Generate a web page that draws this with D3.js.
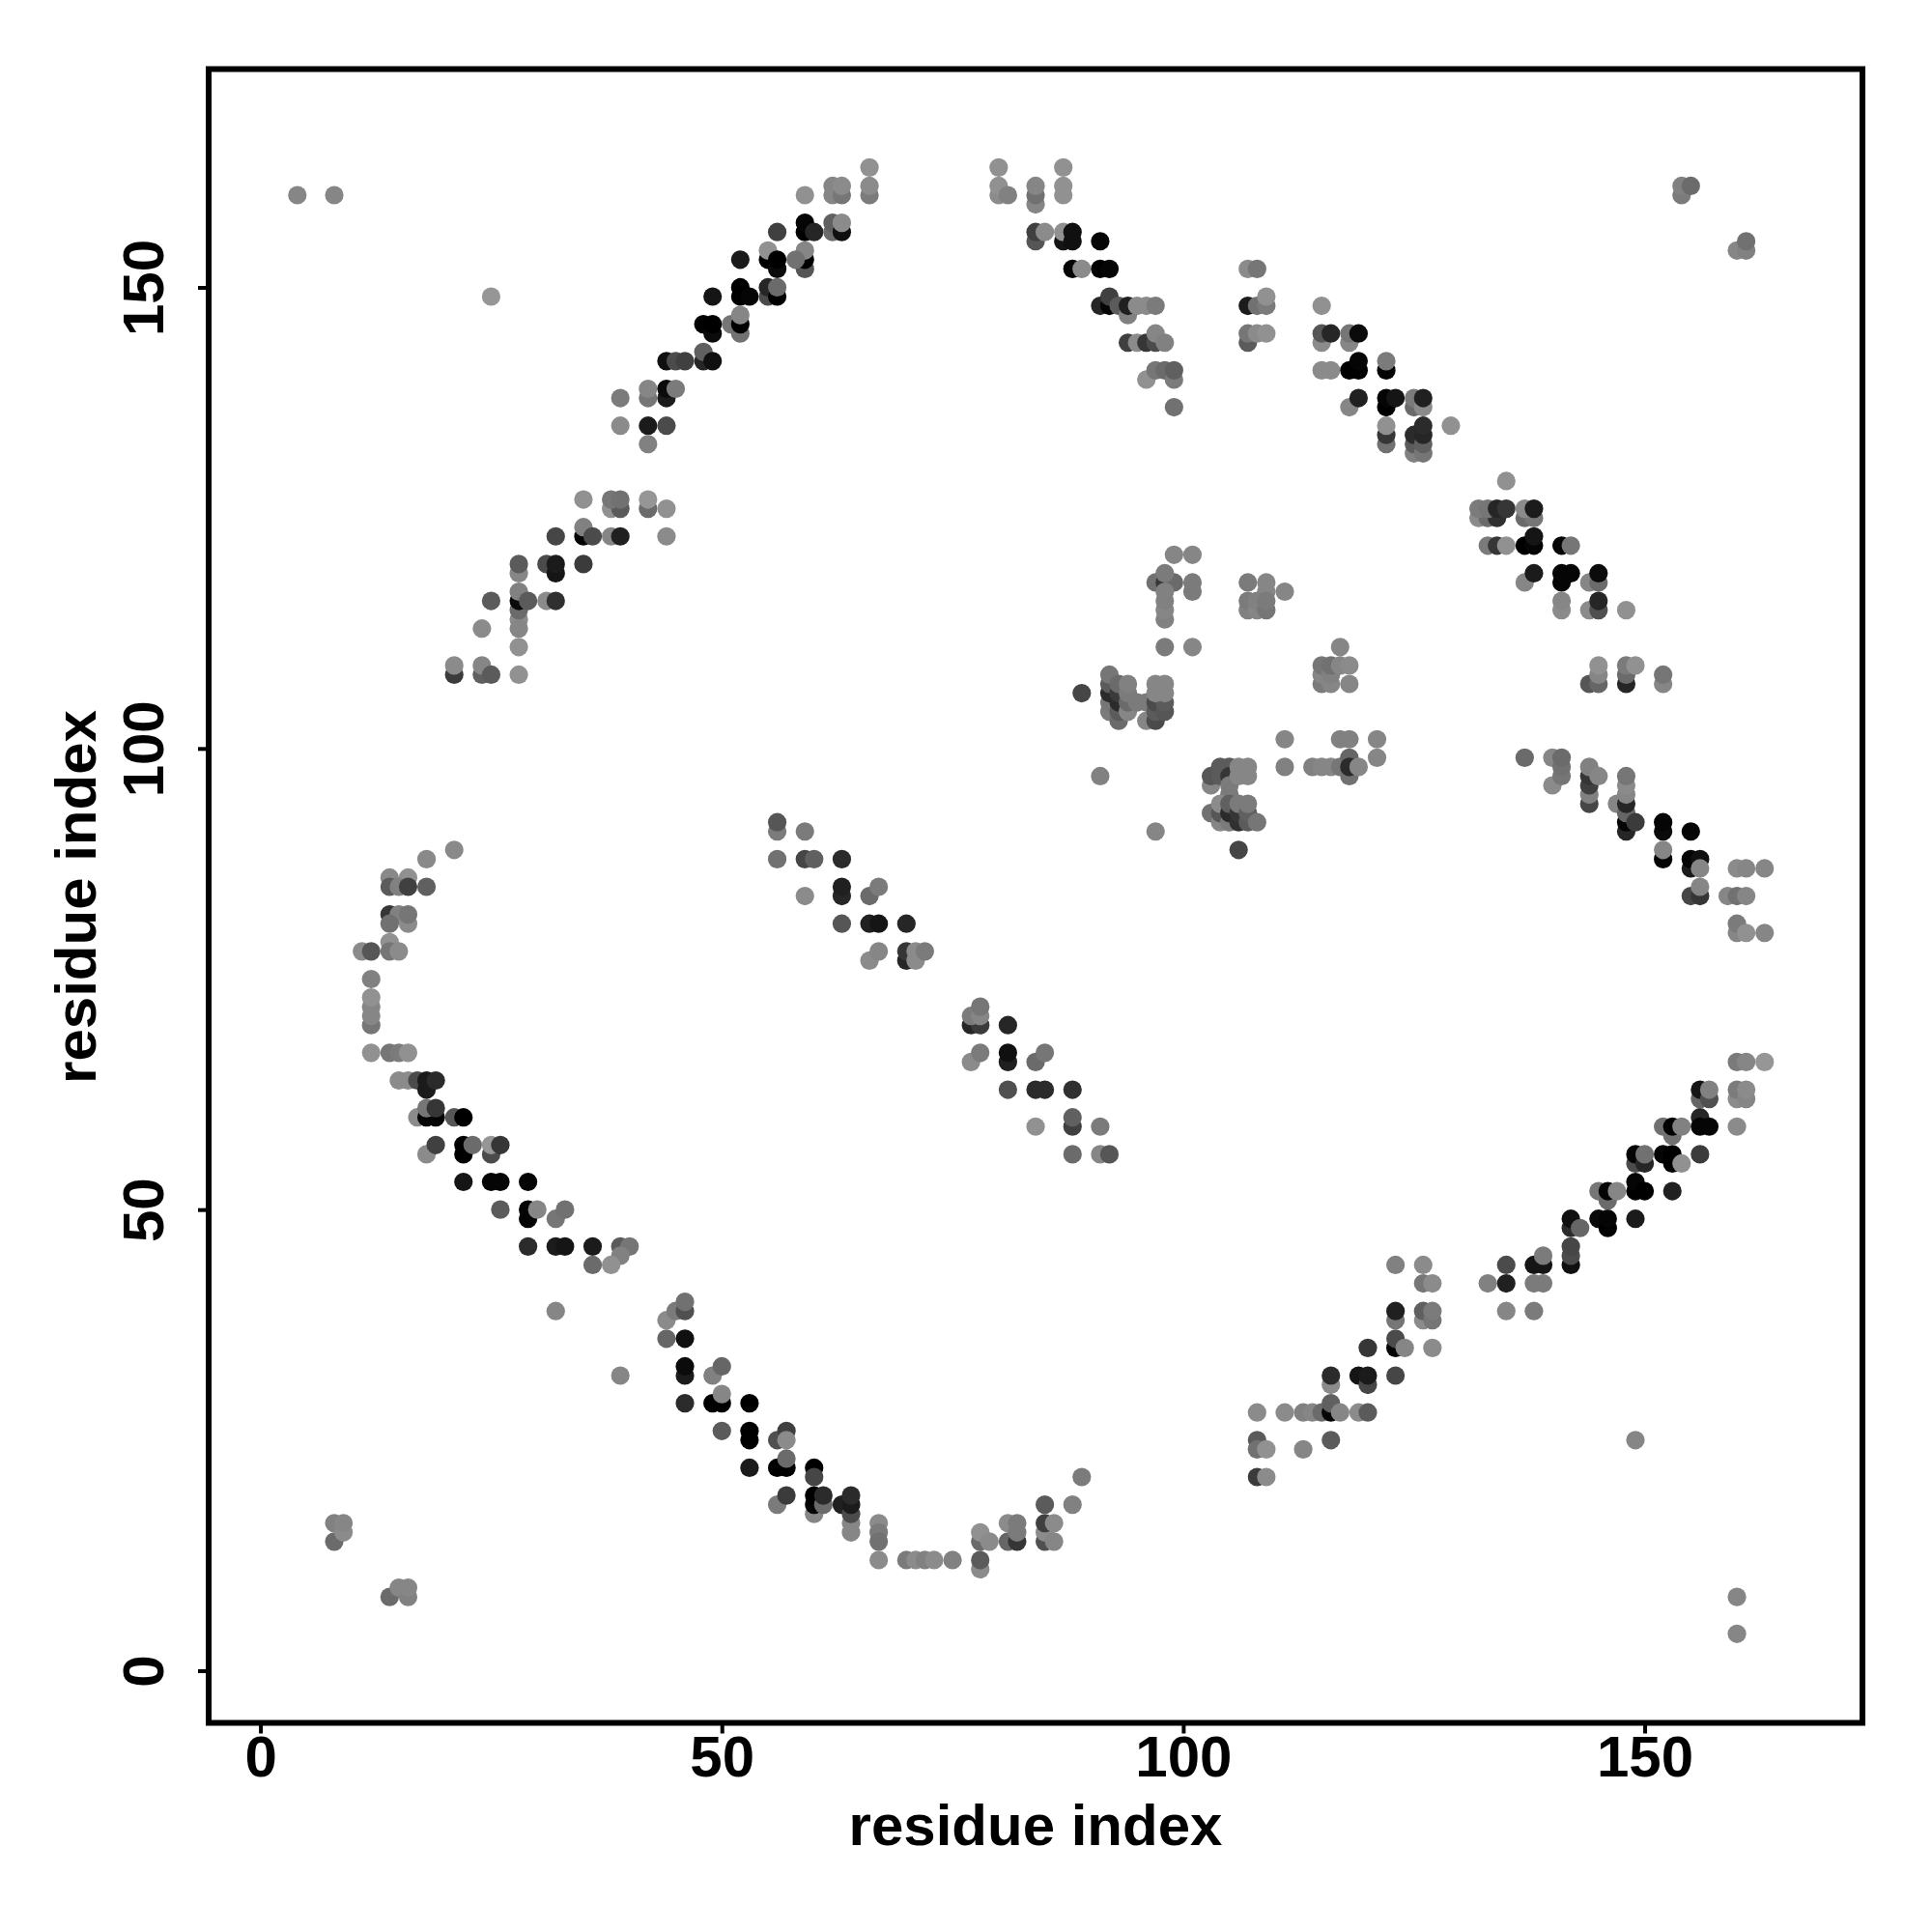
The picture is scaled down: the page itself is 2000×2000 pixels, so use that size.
<!DOCTYPE html>
<html><head><meta charset="utf-8">
<style>html,body{margin:0;background:#fff}svg{display:block}text{font-family:"Liberation Sans",Arial,sans-serif;font-weight:bold;fill:#000}</style>
<script src="https://cdn.jsdelivr.net/npm/d3@7/dist/d3.min.js"></script></head><body>
<script>
// each contact: [residue i, residue j, grey level]
const lowerLeftArc=[[21,89,128],[18,88,128],[14,86,128],[16,86,135],[14,85,85],[15,85,120],[16,85,60],[18,85,90],[14,82,50],[15,82,120],[14,81,105],[16,81,130],[16,82,110],[14,79,135],[11,78,130],[12,78,80],[14,78,110],[15,78,130],[12,75,120],[12,70,110],[12,71,125],[12,72,125],[12,73,135],[12,67,135],[14,67,110],[15,67,115],[16,67,135],[15,64,130],[16,64,130],[17,64,70],[18,63,25],[18,64,25],[19,64,40],[17,60,130],[18,60,5],[19,60,5],[18,61,110],[19,61,50],[21,60,80],[22,60,0],[18,56,130],[19,57,60],[22,56,0],[22,57,0],[23,57,100],[25,56,70],[25,57,140],[26,57,50],[22,53,20],[25,53,5],[26,53,5],[29,53,5],[26,50,85],[29,49,5],[29,50,5],[30,50,125],[32,49,110],[33,50,105],[29,46,40],[32,46,25],[33,46,20],[36,46,25],[39,46,85],[40,46,110],[39,45,120],[36,44,100],[38,44,135],[32,39,125],[39,32,125],[44,38,130],[45,39,115],[46,39,75],[46,40,105],[44,36,95],[46,36,15],[46,32,25],[46,33,10],[49,32,120],[50,33,95],[46,29,40],[49,29,0],[50,29,0],[50,30,125],[53,29,0],[50,26,85],[53,25,0],[53,26,0],[56,25,75],[57,26,60],[57,25,130],[53,22,25],[56,22,0],[57,22,0],[57,23,100],[60,22,0],[60,21,65],[56,18,115],[57,19,55],[60,17,125],[60,18,5],[60,19,0],[61,18,100],[61,19,40],[63,18,30],[64,15,125],[64,16,125],[64,17,70],[64,18,25],[64,19,40],[67,16,130],[67,15,115],[67,14,105],[67,12,130],[70,12,115],[71,12,130],[72,12,120],[73,12,130],[75,12,120],[78,11,130],[78,12,85],[78,14,100],[78,15,135],[79,14,130],[81,14,95],[81,16,130],[82,14,50],[82,15,115],[82,16,115],[85,14,75],[85,15,130],[85,16,60],[86,14,125],[86,16,130],[85,18,85],[88,18,120],[89,21,115],[8,14,100],[8,16,120],[9,15,130],[9,16,125],[14,8,100],[15,9,125],[16,8,120],[16,9,125]];
const lowerRightArc=[[108,21,55],[109,21,130],[108,25,85],[108,24,105],[109,24,135],[113,24,125],[116,25,85],[108,28,130],[111,28,130],[113,28,120],[114,28,125],[115,28,100],[116,28,5],[116,29,90],[117,28,125],[119,28,130],[120,28,85],[116,31,130],[116,32,40],[119,32,20],[120,31,65],[120,32,25],[123,32,65],[120,35,50],[123,35,5],[123,36,70],[124,35,125],[127,35,130],[123,38,110],[123,39,30],[126,38,130],[126,39,90],[127,38,110],[127,39,115],[126,42,110],[127,42,130],[123,44,120],[126,44,130],[133,42,120],[135,42,30],[138,42,115],[139,42,115],[135,44,70],[138,44,20],[139,44,20],[139,45,115],[135,39,125],[138,39,115],[142,44,15],[142,45,70],[142,46,65],[142,48,40],[142,49,15],[143,48,95],[145,49,10],[146,48,0],[146,49,5],[149,49,25],[145,52,110],[146,51,100],[146,52,5],[147,52,125],[149,52,0],[149,53,5],[150,52,0],[153,52,30],[149,55,70],[149,56,5],[150,55,35],[150,56,105],[152,56,5],[153,55,0],[153,56,0],[154,55,135],[156,56,55],[152,59,105],[153,58,105],[153,59,0],[154,59,120],[156,60,35],[156,59,5],[157,59,5],[160,59,130],[156,62,95],[156,63,20],[157,62,75],[157,63,120],[160,62,130],[160,63,115],[161,62,125],[161,63,130],[160,66,115],[161,66,125],[163,66,140],[149,25,125],[160,8,125],[160,4,125]];
const centreDiagonal=[[56,91,115],[56,92,80],[59,91,115],[56,88,105],[59,88,65],[60,88,90],[63,88,40],[59,84,130],[63,84,35],[63,85,30],[66,84,100],[67,85,115],[63,81,80],[66,81,30],[67,81,20],[70,81,35],[66,77,130],[67,78,125],[70,77,35],[70,78,50],[71,77,130],[71,78,130],[72,78,115],[77,70,35],[78,70,55],[77,71,115],[78,71,125],[78,72,110],[81,70,35],[77,66,130],[78,67,115],[81,66,30],[81,67,15],[84,66,100],[85,67,110],[81,63,75],[84,63,40],[85,63,40],[88,63,45],[84,59,135],[88,59,60],[88,60,90],[91,59,115],[88,56,100],[91,56,125],[92,56,80]];
const upperLeftArc=[[66,163,135],[66,160,115],[66,161,130],[62,160,125],[62,161,125],[63,160,110],[63,161,130],[59,160,135],[59,156,0],[59,157,5],[60,156,35],[56,156,60],[62,156,100],[62,157,90],[63,156,15],[63,157,130],[59,152,80],[59,153,0],[59,154,125],[58,153,105],[55,153,0],[55,154,135],[56,152,10],[56,153,0],[52,153,25],[52,149,0],[52,150,0],[53,149,5],[55,149,70],[55,150,35],[56,149,0],[56,150,100],[49,149,20],[51,146,110],[52,145,105],[52,146,0],[52,147,125],[48,146,0],[49,145,10],[49,146,0],[48,142,35],[48,143,90],[49,142,15],[44,142,15],[45,142,70],[46,142,60],[42,138,110],[42,139,125],[44,138,25],[44,139,10],[45,139,115],[39,138,115],[39,135,130],[42,135,25],[44,135,70],[42,133,120],[25,149,140],[35,127,135],[38,126,135],[39,126,85],[38,127,110],[39,127,105],[42,126,100],[42,127,140],[44,126,135],[35,123,5],[35,124,120],[32,123,65],[36,123,70],[38,123,125],[39,123,30],[44,123,130],[28,119,125],[28,120,85],[31,120,70],[32,119,20],[32,120,25],[35,120,55],[25,116,85],[28,114,130],[28,113,125],[28,115,100],[28,116,10],[28,117,120],[29,116,85],[28,111,135],[24,113,130],[31,116,130],[32,116,45],[21,108,55],[21,109,130],[24,108,90],[24,109,125],[25,108,85],[28,108,135],[4,160,125],[8,160,125]];
const upperRightArc=[[80,163,135],[80,160,130],[80,161,135],[81,160,120],[84,159,125],[84,160,105],[84,161,125],[87,163,135],[87,160,135],[87,161,135],[84,155,80],[84,156,60],[85,156,130],[87,155,20],[87,156,135],[88,155,15],[88,156,15],[91,155,5],[88,152,5],[89,152,130],[91,152,0],[92,152,5],[91,148,35],[92,148,5],[92,149,60],[93,148,85],[94,147,120],[94,148,30],[95,148,130],[96,148,130],[97,148,115],[94,144,60],[95,144,130],[96,144,50],[97,144,70],[97,145,125],[98,144,120],[96,140,135],[97,141,110],[98,141,100],[99,140,115],[99,141,90],[99,137,105],[107,152,130],[108,152,110],[107,148,25],[108,148,105],[109,148,115],[109,149,135],[107,144,85],[107,145,110],[108,145,130],[109,145,135],[115,148,135],[115,144,130],[115,145,80],[116,145,35],[118,144,125],[118,145,110],[119,145,10],[115,141,130],[116,141,130],[118,141,0],[119,141,0],[119,142,5],[122,141,5],[122,142,115],[118,137,125],[119,138,30],[122,137,0],[122,138,5],[123,138,20],[125,137,100],[125,138,115],[126,137,130],[126,138,30],[122,133,105],[122,134,50],[122,135,135],[125,132,120],[125,133,85],[125,134,40],[126,132,110],[126,133,90],[126,134,35],[126,135,40],[129,135,135],[135,129,135],[154,160,115],[154,161,120],[155,161,100],[160,154,125],[161,154,120],[161,155,105]];
const rightDiagonal=[[132,125,130],[133,125,100],[134,125,45],[132,126,115],[133,126,110],[134,126,35],[135,126,50],[137,125,100],[138,125,110],[137,126,130],[138,126,25],[133,122,115],[134,122,50],[135,122,135],[137,122,0],[138,122,5],[138,123,20],[141,122,5],[142,122,110],[137,118,125],[138,119,25],[141,118,5],[141,119,5],[142,119,5],[144,118,125],[145,118,100],[145,119,10],[141,115,130],[141,116,125],[144,115,130],[145,115,75],[145,116,35],[148,115,135],[144,107,80],[145,107,95],[145,108,125],[145,109,135],[148,107,35],[148,108,100],[148,109,115],[149,109,135],[152,107,125],[152,108,110],[137,99,100],[140,96,130],[140,99,125],[141,97,110],[141,98,105],[141,99,100],[144,94,65],[144,95,120],[144,96,60],[144,97,50],[144,98,120],[145,97,125],[147,94,125],[148,91,35],[148,92,5],[148,93,95],[148,94,35],[148,95,125],[148,96,130],[148,97,110],[149,92,55],[152,91,10],[152,92,5],[155,91,5],[152,88,5],[152,89,125],[155,87,25],[155,88,5],[156,88,15],[156,87,125],[155,84,65],[156,84,50],[156,85,125],[160,87,130],[161,87,125],[163,87,125],[159,84,125],[160,84,105],[161,84,125],[160,80,125],[160,81,115],[161,80,135],[163,80,125]];
const centreClusters=[[99,121,125],[101,121,125],[97,118,105],[98,118,50],[99,118,100],[98,119,115],[101,117,115],[101,118,115],[98,114,120],[98,115,125],[98,116,120],[98,117,120],[98,111,115],[101,111,125],[107,118,115],[109,117,125],[109,118,125],[111,117,125],[107,115,120],[107,116,115],[108,115,125],[108,116,120],[109,115,110],[109,116,115],[117,111,125],[115,107,115],[115,108,125],[115,109,110],[116,107,125],[116,108,120],[116,109,105],[117,109,125],[118,109,130],[118,107,125],[89,106,65],[92,104,115],[92,105,110],[92,106,40],[92,107,85],[92,108,110],[93,103,100],[93,104,85],[93,105,40],[93,106,55],[93,107,100],[94,104,125],[94,105,100],[94,106,115],[94,107,120],[95,105,115],[96,105,115],[96,103,125],[97,103,70],[97,104,85],[97,105,70],[98,104,80],[98,105,85],[97,106,125],[98,106,125],[97,107,125],[98,107,125],[91,97,120],[97,91,125],[103,96,125],[103,97,80],[104,97,85],[104,98,85],[105,98,85],[105,97,50],[105,96,115],[105,95,115],[106,97,125],[106,98,125],[107,97,125],[107,98,125],[103,93,105],[104,92,125],[104,93,80],[104,94,130],[105,92,115],[105,93,40],[105,94,90],[106,92,45],[106,93,50],[106,94,115],[107,92,85],[107,93,90],[107,94,115],[108,92,110],[106,89,65],[111,101,125],[111,98,120],[114,98,120],[115,98,125],[116,98,125],[117,98,110],[118,97,105],[118,99,95],[118,98,40],[119,98,125],[117,101,120],[118,101,120],[121,101,125],[121,99,125]];
const tickValues=[0,50,100,150];
const axisTitle="residue index";

const W=2000,H=2000,boxLeft=216,boxRight=1928,boxTop=71.5,boxBottom=1783.5;
const x=d3.scaleLinear().domain([-5.61,173.6]).range([boxLeft,boxRight]);
const y=d3.scaleLinear().domain([-5.656,173.67]).range([boxBottom,boxTop]);
const grey=d3.scaleLinear().domain([0,140]).range([0,150]);
const svg=d3.select("body").append("svg").attr("width",W).attr("height",H);
svg.append("rect").attr("width",W).attr("height",H).attr("fill","#fff");

const groups=[lowerLeftArc,lowerRightArc,centreDiagonal,upperLeftArc,upperRightArc,rightDiagonal,centreClusters];
groups.forEach(pts=>{
  svg.append("g").selectAll("circle").data(pts).join("circle")
    .attr("cx",d=>x(d[0])).attr("cy",d=>y(d[1])).attr("r",9.6)
    .attr("fill",d=>{const g=Math.round(grey(d[2]));return d3.rgb(g,g,g).formatHex();});
});

svg.append("rect").attr("x",boxLeft).attr("y",boxTop).attr("width",boxRight-boxLeft).attr("height",boxBottom-boxTop)
  .attr("fill","none").attr("stroke","#000").attr("stroke-width",6);

const xAxis=svg.append("g").attr("transform",`translate(0,${boxBottom})`)
  .call(d3.axisBottom(x).tickValues(tickValues).tickSize(11).tickPadding(2).tickFormat(d3.format("d")));
const yAxis=svg.append("g").attr("transform",`translate(${boxLeft},0)`)
  .call(d3.axisLeft(y).tickValues(tickValues).tickSize(11).tickFormat(d3.format("d")));
[xAxis,yAxis].forEach(a=>{
  a.select(".domain").remove();
  a.selectAll(".tick line").attr("stroke","#000").attr("stroke-width",4);
  a.selectAll("text").attr("font-size",60).attr("font-family",'"Liberation Sans"').attr("font-weight","bold").attr("fill","#000");
});
yAxis.selectAll(".tick text").attr("text-anchor","middle").attr("dy",0).attr("x",0).attr("y",0)
  .attr("transform","translate(-47,0) rotate(-90)");
svg.append("text").attr("x",(boxLeft+boxRight)/2).attr("y",1910).attr("text-anchor","middle").attr("font-size",60).text(axisTitle);
svg.append("text").attr("transform",`translate(99,${(boxTop+boxBottom)/2+1}) rotate(-90)`).attr("text-anchor","middle").attr("font-size",60).text(axisTitle);
</script></body></html>
